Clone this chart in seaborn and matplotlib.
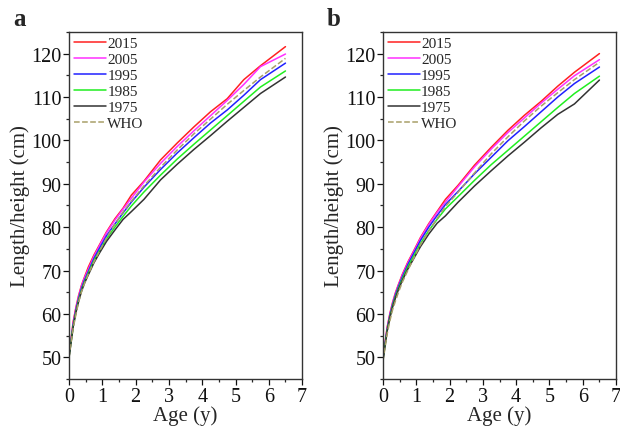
import matplotlib
matplotlib.use("Agg")
import matplotlib.pyplot as plt
from matplotlib.ticker import MultipleLocator
import seaborn as sns
import pandas as pd

# ages (years) of the survey groups
ages = [0, 0.125, 0.21, 0.29, 0.375, 0.46, 0.58, 0.75, 0.92, 1.125, 1.375, 1.625,
        1.875, 2.25, 2.75, 3.25, 3.75, 4.25, 4.75, 5.25, 5.75, 6.5]

# panel a (boys)
a_2015 = [50.4, 58.2, 61.6, 64.3, 66.6, 68.4, 70.8, 73.6, 76.0, 78.9, 81.9, 84.4,
          87.4, 90.6, 95.5, 99.4, 103.1, 106.6, 109.6, 114.0, 117.2, 121.6]
a_2005 = [50.4, 57.9, 61.4, 64.0, 66.4, 68.2, 70.3, 73.3, 75.8, 78.7, 81.6, 84.2,
          86.7, 90.4, 94.7, 98.6, 102.2, 105.7, 109.2, 112.9, 117.0, 119.9]
a_1995 = [50.2, 57.5, 61.0, 63.6, 65.9, 67.7, 69.8, 72.8, 75.2, 78.0, 80.7, 83.3,
          85.8, 89.2, 93.3, 97.1, 100.6, 104.0, 107.0, 110.4, 114.0, 117.8]
a_1985 = [50.1, 57.2, 60.6, 63.2, 65.5, 67.3, 69.4, 72.3, 74.6, 77.3, 80.0, 82.5,
          84.9, 88.1, 92.0, 95.7, 99.1, 102.4, 105.7, 109.0, 112.3, 116.0]
a_1975 = [50.0, 57.0, 60.4, 62.9, 65.2, 67.0, 69.0, 71.8, 74.1, 76.7, 79.3, 81.8,
          83.6, 86.4, 90.9, 94.5, 97.9, 101.1, 104.4, 107.6, 110.8, 114.6]
a_who = [49.9, 56.7, 60.0, 62.8, 65.1, 66.9, 69.2, 72.0, 74.5, 77.5, 80.7, 83.5,
         86.0, 89.5, 93.8, 97.8, 101.5, 104.9, 108.3, 111.5, 114.6, 118.9]

# panel b (girls)
b_2015 = [49.8, 56.9, 60.2, 62.7, 64.9, 66.7, 69.1, 72.0, 74.5, 77.6, 80.8, 83.6,
          86.4, 89.6, 94.3, 98.4, 102.3, 105.8, 109.0, 112.5, 115.7, 120.0]
b_2005 = [49.7, 56.7, 60.0, 62.5, 64.7, 66.5, 68.9, 71.8, 74.3, 77.4, 80.6, 83.4,
          85.8, 89.3, 93.9, 98.0, 101.8, 105.2, 108.6, 111.8, 114.9, 118.6]
b_1995 = [49.6, 56.4, 59.7, 62.2, 64.4, 66.2, 68.5, 71.4, 73.9, 76.9, 80.0, 82.7,
          85.2, 88.2, 92.3, 96.1, 99.9, 103.2, 106.6, 110.0, 113.1, 116.9]
b_1985 = [49.5, 56.2, 59.4, 61.9, 64.0, 65.8, 68.1, 70.9, 73.3, 76.2, 79.2, 81.8,
          84.2, 87.0, 90.8, 94.4, 97.7, 101.0, 104.3, 107.6, 110.8, 114.8]
b_1975 = [49.4, 56.0, 59.2, 61.6, 63.7, 65.5, 67.7, 70.4, 72.7, 75.5, 78.4, 80.9,
          82.6, 85.7, 89.5, 93.0, 96.4, 99.6, 102.9, 106.0, 108.4, 113.9]
b_who = [49.1, 55.4, 58.5, 61.0, 63.0, 64.9, 67.3, 70.1, 72.8, 75.9, 79.1, 82.0,
         84.8, 88.0, 92.5, 96.9, 100.8, 104.5, 107.9, 111.0, 114.0, 118.0]

series_labels = ["2015", "2005", "1995", "1985", "1975", "WHO"]
colors = ["#ff2020", "#ff30ff", "#2020ff", "#20ee20", "#333333", "#a89f68"]

sns.set_style("ticks")
plt.rcParams["font.family"] = ["Liberation Serif", "DejaVu Serif"]
plt.rcParams["xtick.direction"] = "out"
plt.rcParams["ytick.direction"] = "out"

fig = plt.figure(figsize=(6.2, 4.35), dpi=100)
ax_a = fig.add_axes([0.1113, 0.1264, 0.376, 0.798])
ax_b = fig.add_axes([0.6177, 0.1264, 0.376, 0.798])

panels = [
    (ax_a, "a", [a_2015, a_2005, a_1995, a_1985, a_1975, a_who]),
    (ax_b, "b", [b_2015, b_2005, b_1995, b_1985, b_1975, b_who]),
]

for ax, letter, data in panels:
    for lab, vals, col in zip(series_labels, data, colors):
        df = pd.DataFrame({"age": ages, "len": vals})
        ls = "--" if lab == "WHO" else "-"
        sns.lineplot(data=df, x="age", y="len", ax=ax, color=col, lw=1.1,
                     linestyle=ls, label=lab)
    ax.set_xlim(0, 7)
    ax.set_ylim(45, 125)
    ax.xaxis.set_major_locator(MultipleLocator(1))
    ax.xaxis.set_minor_locator(MultipleLocator(0.5))
    ax.yaxis.set_major_locator(MultipleLocator(10))
    ax.yaxis.set_minor_locator(MultipleLocator(5))
    ax.tick_params(which="major", length=4, width=0.9, labelsize=14.5, pad=1.5,
                   colors="#111111")
    ax.tick_params(which="minor", length=2.5, width=0.9)
    for sp in ax.spines.values():
        sp.set_linewidth(1.0)
        sp.set_color("#333333")
    ax.set_xlabel("Age (y)", fontsize=15, labelpad=0)
    ax.set_ylabel("Length/height (cm)", fontsize=15, labelpad=1)
    ax.legend(loc="upper left", frameon=False, fontsize=11,
              handlelength=2.1, handletextpad=0.1, labelspacing=0.15,
              borderaxespad=0.2, borderpad=0.1)
    ax.text(-0.24, 1.04, letter, transform=ax.transAxes, fontsize=18,
            fontweight="bold", va="center", ha="left")

fig.savefig("out.png", dpi=100)
